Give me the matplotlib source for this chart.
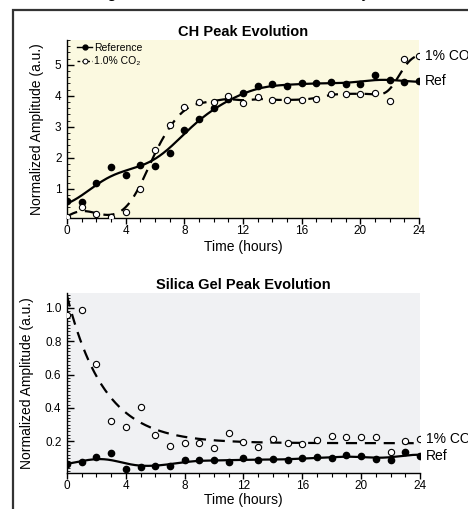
import numpy as np
import matplotlib
matplotlib.use("Agg")
import matplotlib.pyplot as plt
from matplotlib.patches import Rectangle
from matplotlib.ticker import MultipleLocator, FormatStrFormatter
from matplotlib.lines import Line2D

plt.rcParams['font.family'] = ['Liberation Sans', 'DejaVu Sans']

hours = np.arange(0, 25)

ch_ref = [0.62, 0.57, 1.19, 1.70, 1.46, 1.78, 1.75, 2.16, 2.91, 3.26, 3.62, 3.89, 4.09,
          4.32, 4.38, 4.32, 4.40, 4.40, 4.44, 4.37, 4.38, 4.66, 4.52, 4.44, 4.47]
ch_co2 = [0.10, 0.40, 0.19, 0.09, 0.25, 1.01, 2.24, 3.05, 3.64, 3.79, 3.80, 3.98, 3.77,
          3.96, 3.85, 3.87, 3.87, 3.91, 4.06, 4.07, 4.06, 4.09, 3.84, 5.20, 5.29]

si_ref = [0.066, 0.078, 0.103, 0.127, 0.036, 0.046, 0.054, 0.052, 0.085, 0.089, 0.085, 0.078, 0.099,
          0.085, 0.093, 0.087, 0.099, 0.103, 0.099, 0.119, 0.109, 0.093, 0.089, 0.133, 0.113]
si_co2 = [0.96, 0.99, 0.665, 0.32, 0.287, 0.406, 0.236, 0.170, 0.192, 0.190, 0.160, 0.249, 0.194,
          0.166, 0.214, 0.190, 0.184, 0.206, 0.234, 0.224, 0.228, 0.226, 0.135, 0.200, 0.214]

titles = ["CH Peak Evolution", "Silica Gel Peak Evolution"]
legend_labels = ["Reference", "1.0% CO\u2082"]
end_labels = ["Ref", "1% CO\u2082"]
suptitle = "Tracking of Sorbent Bands Under Humidity Test"


def smooth(t, y, bw, n=400):
    """Local linear (Gaussian-kernel) smoother of the data."""
    t = np.asarray(t, float)
    y = np.asarray(y, float)
    tt = np.linspace(t.min(), t.max(), n)
    out = np.empty_like(tt)
    for i, x in enumerate(tt):
        w = np.exp(-0.5 * ((t - x) / bw) ** 2)
        X = np.vstack([np.ones_like(t), t - x]).T
        Wm = np.diag(w)
        beta = np.linalg.solve(X.T @ Wm @ X, X.T @ Wm @ y)
        out[i] = beta[0]
    return tt, out


def exp_fit(t, y, n=400):
    """Least-squares fit y = a*exp(-t/tau) + c (grid over tau)."""
    t = np.asarray(t, float)
    y = np.asarray(y, float)
    best = None
    for tau in np.linspace(0.3, 8, 400):
        X = np.vstack([np.exp(-t / tau), np.ones_like(t)]).T
        coef, res, *_ = np.linalg.lstsq(X, y, rcond=None)
        err = np.sum((X @ coef - y) ** 2)
        if best is None or err < best[0]:
            best = (err, tau, coef)
    _, tau, (a, c) = best
    tt = np.linspace(t.min(), t.max(), n)
    return tt, a * np.exp(-tt / tau) + c


W, H = 468, 509
fig = plt.figure(figsize=(W / 100, H / 100), dpi=100)

# frame
fig.add_artist(Rectangle((13 / W, -0.1), 1.2, 1.1 - 9.5 / H, transform=fig.transFigure,
                         fill=False, edgecolor='#333333', linewidth=1.6, clip_on=False))
fig.text(0.49, 1 + 1.5 / H, suptitle, ha='center', va='baseline', fontsize=12)

ax1 = fig.add_axes([67 / W, 1 - 218 / H, 352 / W, 178 / H])
ax2 = fig.add_axes([67 / W, 1 - 473 / H, 353 / W, 180 / H])

curves = [
    (smooth(hours, ch_ref, 1.3), smooth(hours, ch_co2, 0.75)),
    (smooth(hours, si_ref, 1.2), exp_fit(hours, si_co2)),
]

panels = [
    (ax1, ch_ref, ch_co2, '#fbf9e0', (0.06, 5.8), 1, 0.2),
    (ax2, si_ref, si_co2, '#f0f1f3', (0.01, 1.09), 0.2, 0.02),
]

for k, (ax, ref, co2, bg, ylim, ymaj, ymin) in enumerate(panels):
    ax.set_facecolor(bg)
    (tr, yr), (tc, yc) = curves[k]
    ax.plot(tr, yr, color='black', lw=1.6, zorder=3)
    ax.plot(tc, yc, color='black', lw=1.6, ls=(0, (5, 3.5)), zorder=3)
    ax.plot(hours, ref, 'o', color='black', ms=4.5, zorder=4)
    ax.plot(hours, co2, 'o', mfc='white', mec='black', mew=0.8, ms=4.5, zorder=4)
    ax.set_xlim(0, 24)
    ax.set_ylim(*ylim)
    ax.xaxis.set_major_locator(MultipleLocator(4))
    ax.xaxis.set_minor_locator(MultipleLocator(1))
    ax.yaxis.set_major_locator(MultipleLocator(ymaj))
    ax.yaxis.set_minor_locator(MultipleLocator(ymin))
    if k == 1:
        ax.yaxis.set_major_formatter(FormatStrFormatter('%.1f'))
    for s in ['top', 'right']:
        ax.spines[s].set_visible(False)
    for s in ['left', 'bottom']:
        ax.spines[s].set_linewidth(1.0)
    ax.tick_params(axis='x', which='major', direction='out', length=4, width=1, labelsize=8.5, pad=1)
    ax.tick_params(axis='x', which='minor', direction='out', length=3, width=0.8)
    ax.tick_params(axis='y', which='major', direction='in', length=5, width=1, labelsize=8.5, pad=4)
    ax.tick_params(axis='y', which='minor', direction='in', length=2.5, width=0.6)
    ax.set_xlabel("Time (hours)", fontsize=10, labelpad=1 if k == 1 else 2)
    ax.set_ylabel("Normalized Amplitude (a.u.)", fontsize=10, labelpad=8)
    ax.set_title(titles[k], fontsize=10.5, fontweight='bold', pad=3)
    ax.annotate(end_labels[0], (hours[-1], ref[-1]), xytext=(4, 0), textcoords='offset points',
                va='center', ha='left', fontsize=10, annotation_clip=False)
    ax.annotate(end_labels[1], (hours[-1], co2[-1]), xytext=(4, 0), textcoords='offset points',
                va='center', ha='left', fontsize=10, annotation_clip=False)

# legend on top panel
h1 = Line2D([], [], color='black', lw=1.0, marker='o', ms=3.5)
h2 = Line2D([], [], color='black', lw=1.0, ls=(0, (2, 1.5)), marker='o', ms=3.5, mfc='white', mew=0.7)
ax1.legend([h1, h2], legend_labels, loc='upper left', frameon=False, fontsize=7.5,
           handlelength=1.5, handletextpad=0.2, labelspacing=0.35, borderaxespad=0.2,
           bbox_to_anchor=(0.01, 1.02))

fig.savefig("out.png", dpi=100)
